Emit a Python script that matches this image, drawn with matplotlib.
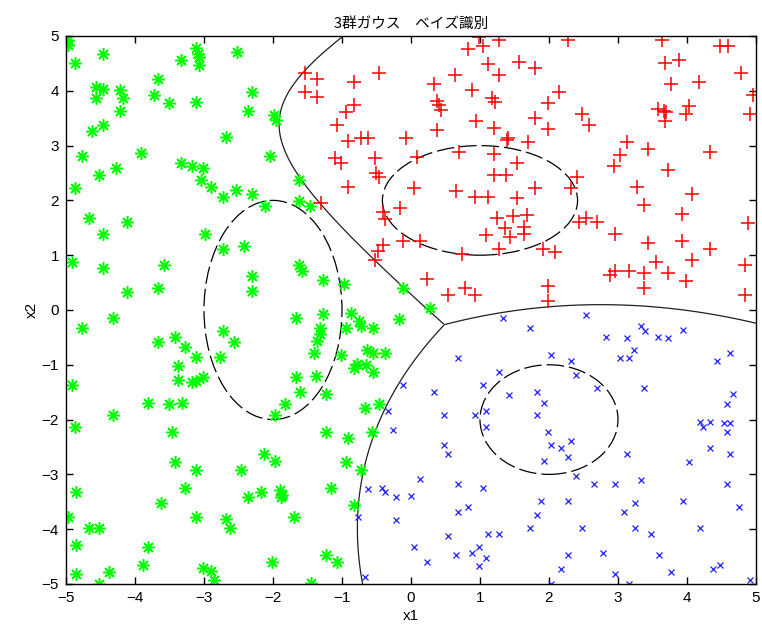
import numpy as np
import matplotlib
matplotlib.use("Agg")
import matplotlib.pyplot as plt
from matplotlib.patches import Ellipse

# ---------------- data ----------------
green_x = [-4.97,-4.97,-4.47,-4.87,-3.12,-3.09,-3.07,-3.33,-3.07,-2.52,-3.67,-4.57,-4.47,-4.22,-4.57,-4.18,-3.72,-3.50,-3.12,-2.31,-4.22,-2.36,-1.99,-1.95,-4.62,-4.47,-2.68,-4.77,-3.92,-2.05,-4.27,-3.33,-3.17,-3.02,-4.52,-4.87,-3.05,-2.90,-2.72,-2.54,-2.31,-2.12,-1.63,-1.63,-1.46,-4.66,-4.11,-4.47,-2.99,-2.72,-2.42,-4.92,-4.47,-3.58,-2.31,-4.11,-3.67,-2.31,-1.63,-1.58,-1.27,-0.97,-0.12,0.28,
-4.32,-4.77,-3.67,-3.42,-3.28,-3.12,-3.37,-3.37,-3.17,-3.12,-3.02,-2.72,-2.57,-2.77,-4.92,-3.81,-3.51,-3.32,-4.32,-4.87,-3.46,-1.83,-1.97,
-1.66,-1.27,-0.87,-0.75,-0.73,-0.94,-0.55,-0.17,-1.32,-1.32,-1.36,-1.40,-1.02,-0.64,-0.55,-0.38,-0.78,-0.82,-0.65,-0.55,-1.66,-1.37,-1.61,-1.23,-0.67,-0.47,-1.23,-0.92,-0.56,
-2.13,-1.97,-3.42,-3.12,-2.47,-3.28,-4.86,-2.36,-2.17,-1.90,-1.87,-1.88,-3.62,-4.97,-3.12,-2.68,-2.62,-4.66,-4.52,-4.86,-3.81,-3.88,-2.01,-4.86,-4.37,-4.52,-3.02,-2.90,-2.86,
-0.94,-0.72,-1.16,-0.83,-1.69,-1.23,-1.07,-1.45]
green_y = [4.93,4.84,4.68,4.50,4.78,4.68,4.62,4.57,4.47,4.71,4.22,4.07,4.03,4.01,3.86,3.86,3.92,3.77,3.80,3.98,3.63,3.63,3.56,3.47,3.27,3.38,3.16,2.81,2.87,2.81,2.59,2.68,2.62,2.60,2.46,2.23,2.37,2.25,2.07,2.19,2.11,1.90,2.37,1.98,1.90,1.67,1.61,1.38,1.38,1.11,1.17,0.88,0.76,0.82,0.62,0.33,0.41,0.35,0.83,0.71,0.55,0.47,0.41,0.03,
-0.14,-0.32,-0.58,-0.49,-0.67,-0.85,-1.02,-1.28,-1.32,-1.30,-1.22,-0.38,-0.58,-0.85,-1.37,-1.69,-1.72,-1.69,-1.92,-2.13,-2.22,-1.72,-1.92,
-0.14,-0.08,-0.06,-0.21,-0.30,-0.32,-0.32,-0.16,-0.32,-0.44,-0.57,-0.79,-0.83,-0.73,-0.79,-0.79,-0.99,-1.06,-1.00,-1.13,-1.22,-1.20,-1.49,-1.54,-1.79,-1.72,-2.22,-2.34,-2.22,
-2.63,-2.75,-2.78,-2.92,-2.92,-3.24,-3.33,-3.42,-3.33,-3.28,-3.38,-3.42,-3.53,-3.77,-3.77,-3.82,-3.97,-3.97,-3.97,-4.29,-4.32,-4.65,-4.59,-4.82,-4.79,-5.00,-4.71,-4.76,-4.93,
-2.78,-2.92,-3.24,-3.56,-3.77,-4.47,-4.59,-4.99]

red_x = [0.98,0.83,1.04,1.28,1.12,1.57,0.64,1.28,-0.47,-1.54,-1.36,-0.82,0.34,0.89,-1.54,-1.36,1.17,1.22,0.38,0.43,0.41,-0.82,-0.94,-1.07,0.94,1.20,0.38,-0.92,-0.73,-0.63,-0.07,1.41,1.39,-1.10,-1.01,-0.52,0.09,0.69,1.20,1.53,1.70,
2.28,3.64,4.48,4.59,1.80,3.68,3.89,4.78,3.77,4.18,2.14,1.98,4.96,1.80,2.48,2.58,3.58,3.67,3.70,3.68,4.03,3.98,4.91,1.98,3.13,3.03,3.43,4.33,2.94,3.73,
2.40,2.32,1.80,3.28,4.07,3.38,3.93,1.68,1.64,1.64,2.44,2.54,2.70,4.89,2.95,3.43,3.93,4.33,1.92,2.08,3.55,4.07,4.84,2.88,2.95,3.16,3.38,3.38,3.73,3.99,4.84,1.98,1.98,
-0.50,-0.47,-0.92,0.05,0.65,0.93,1.12,1.20,1.38,1.53,-1.30,-0.41,-0.37,-0.16,1.24,1.48,1.36,1.43,1.09,-0.12,0.13,-0.41,-0.48,-0.52,1.28,0.74,0.23,0.78,0.53,0.93]
red_y = [4.98,4.76,4.82,4.93,4.48,4.52,4.28,4.28,4.33,4.32,4.22,4.16,4.12,4.01,3.98,3.89,3.86,3.80,3.81,3.65,3.74,3.74,3.62,3.38,3.45,3.32,3.28,3.08,3.13,3.13,3.13,3.14,3.10,2.78,2.68,2.78,2.80,2.89,2.84,2.68,3.07,
4.93,4.93,4.82,4.82,4.42,4.50,4.57,4.33,4.12,4.16,3.98,3.77,3.92,3.51,3.57,3.38,3.67,3.63,3.61,3.44,3.73,3.57,3.57,3.30,3.07,2.82,2.93,2.88,2.62,2.56,
2.43,2.22,2.23,2.25,2.11,1.92,1.76,1.73,1.52,1.38,1.61,1.68,1.61,1.58,1.38,1.23,1.26,1.11,1.11,1.05,0.88,0.91,0.83,0.64,0.71,0.71,0.67,0.41,0.67,0.52,0.27,0.43,0.16,
2.50,2.42,2.25,2.23,2.17,2.07,2.07,2.46,2.46,2.04,1.96,1.79,1.66,1.87,1.67,1.72,1.49,1.34,1.37,1.25,1.25,1.19,1.08,0.91,1.11,1.03,0.56,0.41,0.27,0.27]

blue_x = [1.33,0.68,1.28,-0.12,0.33,1.04,1.42,-0.34,0.48,0.93,1.08,1.08,-0.26,0.48,
2.53,1.72,2.83,3.13,3.33,3.39,3.58,3.72,3.94,3.23,3.03,3.16,2.03,2.32,2.39,2.69,3.38,4.44,4.63,1.83,1.93,1.83,4.66,4.58,4.19,4.23,4.33,4.54,4.63,4.58,1.98,2.03,2.18,2.32,4.33,
2.28,1.93,3.13,4.03,4.63,2.39,2.65,2.95,3.33,4.58,1.88,2.28,1.83,1.72,3.08,3.24,3.94,4.75,2.48,3.24,3.48,4.19,2.28,2.18,2.78,3.59,2.95,3.77,4.38,4.48,2.03,3.16,4.92,
0.53,0.13,0.68,1.04,-0.63,-0.42,-0.37,-0.21,0.00,0.68,0.83,-0.77,-0.21,0.53,1.12,1.28,0.04,0.23,0.65,0.89,0.98,1.08,0.99,-0.67]
blue_y = [-0.14,-0.87,-1.14,-1.37,-1.49,-1.37,-1.56,-1.84,-1.92,-1.92,-1.84,-2.13,-2.19,-2.46,
-0.09,-0.32,-0.49,-0.52,-0.30,-0.38,-0.50,-0.52,-0.37,-0.73,-0.87,-0.87,-0.83,-0.93,-1.19,-1.42,-1.43,-0.93,-0.79,-1.49,-1.69,-1.92,-1.54,-1.72,-2.04,-2.13,-2.04,-2.07,-2.07,-2.22,-2.22,-2.46,-2.51,-2.39,-2.51,
-2.68,-2.75,-2.63,-2.78,-2.63,-3.03,-3.18,-3.18,-3.10,-3.18,-3.48,-3.48,-3.74,-3.97,-3.68,-3.53,-3.48,-3.59,-3.97,-3.97,-4.09,-3.97,-4.47,-4.73,-4.44,-4.47,-4.82,-4.79,-4.73,-4.65,-5.00,-5.00,-4.93,
-2.63,-3.09,-3.18,-3.24,-3.27,-3.24,-3.33,-3.42,-3.39,-3.68,-3.60,-3.77,-3.83,-4.12,-4.09,-4.09,-4.33,-4.59,-4.47,-4.44,-4.33,-4.53,-4.67,-4.87]

# true class Gaussians (dashed 1-sigma ellipses): green, red, blue
true_means = [(-2.0, 0.0), (1.0, 2.0), (2.0, -2.0)]
true_sds = [(1.0, 2.0), (2 ** 0.5, 1.0), (1.0, 1.0)]

# estimated Gaussians used by the Bayes classifier (decision boundaries)
est_means = [(-1.801, 0.128), (0.916, 1.744), (2.014, -1.946)]
est_sds = [(1.332, 1.539), (1.865, 1.103), (1.166, 1.053)]
est_rho = [0.176, 0.054, -0.018]
est_logprior = [0.0, 0.056, -0.037]

title = "3群ガウス　ベイズ識別"
ticks = [-5, -4, -3, -2, -1, 0, 1, 2, 3, 4, 5]

# ---------------- plot ----------------
plt.rcParams['font.family'] = ['Liberation Sans', 'DejaVu Sans']
fig = plt.figure(figsize=(7.62, 6.36), dpi=100)
ax = fig.add_axes([0.0866, 0.0818, 0.9055, 0.8616])


def discriminant(P, k):
    mx, my = est_means[k]
    sx, sy = est_sds[k]
    r = est_rho[k]
    S = np.array([[sx * sx, r * sx * sy], [r * sx * sy, sy * sy]])
    Si = np.linalg.inv(S)
    d = P - np.array([mx, my])
    q = np.einsum('ni,ij,nj->n', d, Si, d)
    return -0.5 * q - 0.5 * np.log(np.linalg.det(S)) + est_logprior[k]


n = 501
xx, yy = np.meshgrid(np.linspace(-5, 5, n), np.linspace(-5, 5, n))
P = np.column_stack([xx.ravel(), yy.ravel()])
g = np.stack([discriminant(P, k).reshape(n, n) for k in range(3)], axis=-1)
for i, j, k in [(0, 1, 2), (1, 2, 0), (0, 2, 1)]:
    d = np.ma.masked_where(g[..., k] > np.maximum(g[..., i], g[..., j]), g[..., i] - g[..., j])
    ax.contour(xx, yy, d, levels=[0], colors='#202020', linewidths=0.9)

for (cx, cy), (sx, sy) in zip(true_means, true_sds):
    ax.add_patch(Ellipse((cx, cy), 2 * sx, 2 * sy, fill=False, ec='black',
                         lw=0.9, ls=(0, (14, 4))))

ax.plot(green_x, green_y, ls='none', marker=(8, 2, 0), color='#00ff00', ms=9, mew=1.1)
ax.plot(red_x, red_y, ls='none', marker='+', color='#ff0000', ms=10, mew=1.1)
ax.plot(blue_x, blue_y, ls='none', marker='x', color='#2020ff', ms=5, mew=0.9)

ax.set_xlim(-5, 5)
ax.set_ylim(-5, 5)
ax.set_xticks(ticks)
ax.set_yticks(ticks)
ax.tick_params(direction='in', length=5, width=1, top=True, right=True,
               labelsize=11, pad=5)
for s in ax.spines.values():
    s.set_linewidth(1)
ax.set_xlabel('x1', fontsize=11, labelpad=3)
ax.set_ylabel('x2', fontsize=11, labelpad=2)
ax.set_title(title, fontsize=10.5, family=['Noto Sans CJK JP', 'DejaVu Sans'], pad=6)

fig.savefig('out.png')
